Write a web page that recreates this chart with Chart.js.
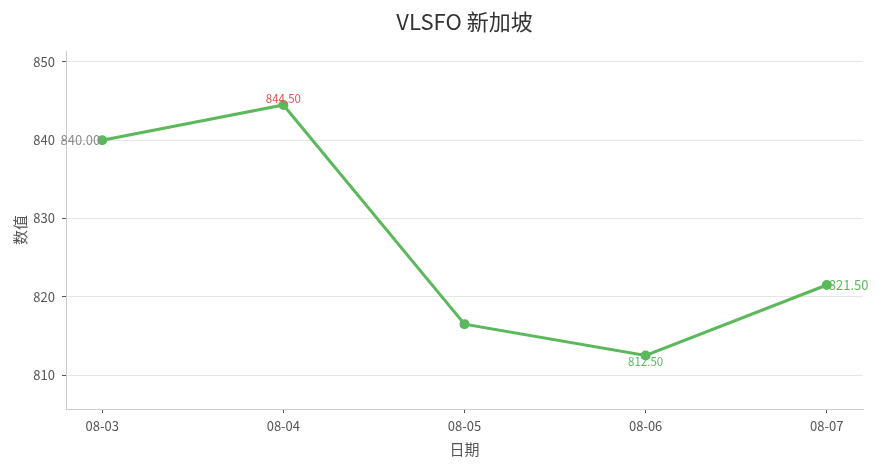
<!DOCTYPE html>
<html>
<head>
<meta charset="utf-8">
<script src="https://cdn.jsdelivr.net/npm/chart.js@4/dist/chart.umd.min.js"></script>
<style>
  html, body { margin: 0; padding: 0; background: #fff; }
  #wrap { width: 883px; height: 468px; }
</style>
</head>
<body>
<div id="wrap"><canvas id="priceChart"></canvas></div>
<script>
// data
const dates = ['08-03', '08-04', '08-05', '08-06', '08-07'];
const prices = [840.00, 844.50, 816.50, 812.50, 821.50];
const yTicks = [810, 820, 830, 840, 850];
const chartTitle = 'VLSFO 新加坡';

// which points carry a value label, and how
const labelSpots = ['left', 'top', null, 'bottom', 'right'];
const labelColors = ['#8c8c8c', '#d9534f', null, '#5cb85c', '#5cb85c'];

const FONT = '"Noto Sans CJK SC", "Noto Sans", sans-serif';
const lineColor = '#5cb85c';

const valueLabels = {
    id: 'valueLabels',
    afterDatasetsDraw(chart) {
        const ctx = chart.ctx;
        const pts = chart.getDatasetMeta(0).data;
        ctx.save();
        pts.forEach((p, i) => {
            const spot = labelSpots[i];
            if (!spot) return;
            const txt = prices[i].toFixed(2);
            ctx.fillStyle = labelColors[i];
            ctx.textBaseline = 'middle';
            if (spot === 'left') {
                ctx.font = '13px ' + FONT;
                ctx.textAlign = 'right';
                ctx.fillText(txt, p.x - 2, p.y);
            } else if (spot === 'right') {
                ctx.font = '13px ' + FONT;
                ctx.textAlign = 'left';
                ctx.fillText(txt, p.x + 2, p.y);
            } else if (spot === 'top') {
                ctx.font = '11.5px ' + FONT;
                ctx.textAlign = 'center';
                ctx.fillText(txt, p.x, p.y - 6);
            } else {
                ctx.font = '11.5px ' + FONT;
                ctx.textAlign = 'center';
                ctx.fillText(txt, p.x, p.y + 6);
            }
        });
        ctx.restore();
    }
};

// title centred on the plot area, not the canvas
const plotTitle = {
    id: 'plotTitle',
    afterDraw(chart) {
        const ctx = chart.ctx;
        const a = chart.chartArea;
        ctx.save();
        ctx.font = '22px ' + FONT;
        ctx.fillStyle = '#333';
        ctx.textAlign = 'center';
        ctx.textBaseline = 'middle';
        ctx.fillText(chartTitle, (a.left + a.right) / 2, 22);
        ctx.restore();
    }
};

const ctx = document.getElementById('priceChart').getContext('2d');
const priceChart = new Chart(ctx, {
    type: 'line',
    data: {
        datasets: [{
            data: prices.map((v, i) => ({ x: i, y: v })),
            borderColor: lineColor,
            backgroundColor: lineColor,
            borderWidth: 3,
            pointRadius: 3.5,
            pointHoverRadius: 3.5,
            tension: 0
        }]
    },
    options: {
        responsive: true,
        maintainAspectRatio: false,
        animation: false,
        layout: {
            padding: { top: 51, right: 20, left: 0, bottom: 0 }
        },
        plugins: {
            legend: { display: false },
            title: { display: false },
            tooltip: { enabled: false }
        },
        scales: {
            x: {
                type: 'linear',
                min: -0.2,
                max: 4.2,
                afterBuildTicks: (scale) => {
                    scale.ticks = dates.map((d, i) => ({ value: i }));
                },
                afterFit: (scale) => { scale.height = 59; },
                ticks: {
                    callback: (v) => dates[v],
                    color: '#555',
                    font: { family: FONT, size: 13 },
                    padding: 5,
                    maxRotation: 0
                },
                grid: {
                    drawOnChartArea: false,
                    drawTicks: true,
                    tickLength: 4,
                    tickColor: '#555'
                },
                border: { color: '#cccccc', width: 1 },
                title: {
                    display: true,
                    text: '日期',
                    color: '#555',
                    font: { family: FONT, size: 15 },
                    padding: { top: 4, bottom: 10 }
                }
            },
            y: {
                min: 805.66,
                max: 851.4,
                afterBuildTicks: (scale) => {
                    scale.ticks = yTicks.map(v => ({ value: v }));
                },
                afterFit: (scale) => { scale.width = 66; },
                ticks: {
                    color: '#555',
                    font: { family: FONT, size: 13 },
                    padding: 7
                },
                grid: {
                    color: '#e6e6e6',
                    tickColor: '#555',
                    tickLength: 4
                },
                border: { color: '#cccccc', width: 1 },
                title: {
                    display: true,
                    text: '数值',
                    color: '#555',
                    font: { family: FONT, size: 15 },
                    padding: { top: 11, bottom: 0 }
                }
            }
        }
    },
    plugins: [valueLabels, plotTitle]
});
</script>
</body>
</html>
